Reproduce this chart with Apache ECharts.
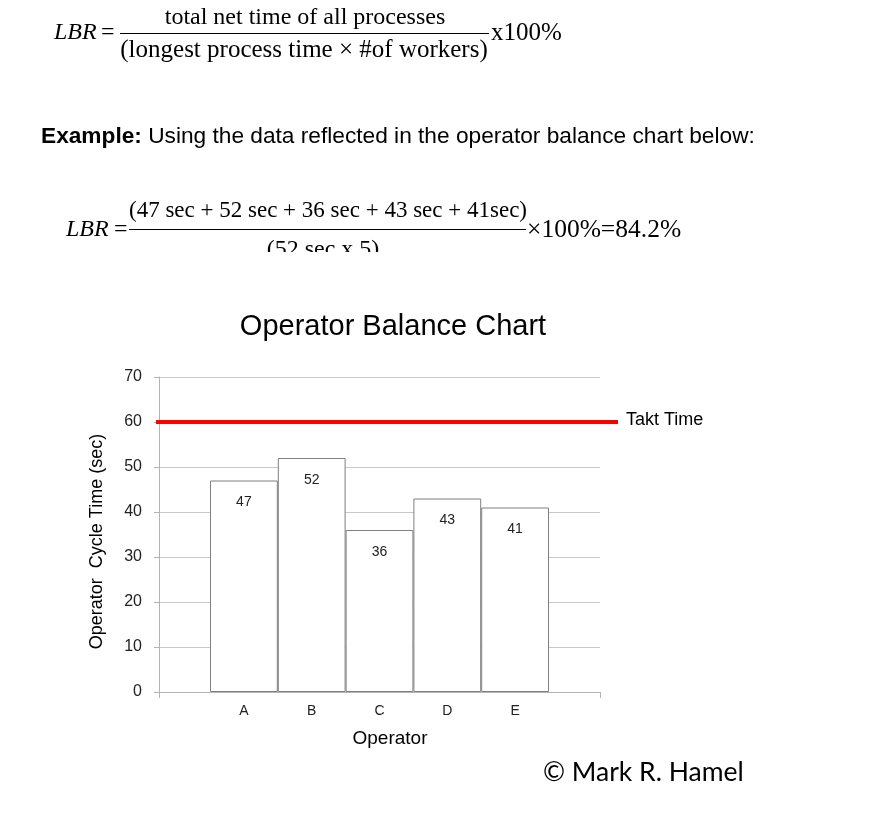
<!DOCTYPE html>
<html>
<head>
<meta charset="utf-8">
<title>Operator Balance Chart</title>
<script src="https://cdn.jsdelivr.net/npm/echarts@6/dist/echarts.min.js"></script>
<style>
    html, body { margin: 0; padding: 0; background: #fff; }
    #chart { width: 875px; height: 816px; }
</style>
</head>
<body>
<div id="chart"></div>
<script>
// chart data
const operators = ['A', 'B', 'C', 'D', 'E'];
const cycleTimes = [47, 52, 36, 43, 41];
const taktTime = 60;
const taktLabel = 'Takt Time';
const yMin = 0;
const yMax = 70;
const yStep = 10;

const serif = '"Liberation Serif", "Times New Roman", serif';
const sans = '"Liberation Sans", Arial, sans-serif';

let chart = echarts.init(document.getElementById('chart'));

// plain text pieces above and below the chart (formulas, note, copyright)
function txt(text, x, y, size, opts) {
    opts = opts || {};
    return {
        type: 'text',
        x: x,
        y: y,
        z: 10,
        style: {
            text: text,
            font: (opts.style || '') + ' ' + size + 'px ' + (opts.family || serif),
            fill: '#000',
            align: opts.align || 'left',
            verticalAlign: 'middle',
            rich: opts.rich
        }
    };
}
function hline(x1, x2, y) {
    return {
        type: 'line',
        z: 10,
        shape: { x1: x1, y1: y, x2: x2, y2: y },
        style: { stroke: '#000', lineWidth: 1 }
    };
}

let graphics = [
    // LBR definition
    txt('LBR', 54, 33, 24, { style: 'italic' }),
    txt('=', 101, 33, 24),
    txt('total net time of all processes', 305, 18, 24, { align: 'center' }),
    hline(120, 489, 33.5),
    txt('(longest process time \u00d7 #of workers)', 304, 50, 25, { align: 'center' }),
    txt('x100%', 491, 33, 25),

    // example line
    {
        type: 'text', x: 41, y: 137, z: 10,
        style: {
            text: '{b|Example:} Using the data reflected in the operator balance chart below:',
            font: '22.7px ' + sans,
            fill: '#000',
            verticalAlign: 'middle',
            rich: { b: { fontWeight: 'bold', fontSize: 22.7, fontFamily: sans } }
        }
    },

    // worked example
    txt('LBR', 66, 230, 24, { style: 'italic' }),
    txt('=', 114, 230, 24),
    txt('(47 sec + 52 sec + 36 sec + 43 sec + 41sec)', 328, 211, 23, { align: 'center' }),
    hline(129, 526, 229.5),
    txt('(52 sec x 5)', 323, 250, 24, { align: 'center' }),
    txt('\u00d7100%=84.2%', 527, 230, 25.5),
    // the source image is cut right under the denominator
    {
        type: 'rect', z: 11,
        shape: { x: 0, y: 252, width: 875, height: 20 },
        style: { fill: '#fff' }
    },

    txt('\u00a9 Mark R. Hamel', 543, 772, 26.5, { family: 'Lato, "Open Sans", sans-serif' })
];

let axisGray = '#b4b4b4';

let options = {
    animation: false,
    backgroundColor: '#fff',
    title: {
        text: 'Operator Balance Chart',
        left: 388,
        top: 307,
        textAlign: 'center',
        textStyle: {
            fontFamily: sans,
            fontSize: 29,
            fontWeight: 'normal',
            color: '#000'
        }
    },
    graphic: graphics,
    grid: [
        // frame with y axis and gridlines
        { left: 159, right: 275, top: 377, bottom: 124 },
        // bars
        { left: 210, right: 326, top: 377, bottom: 124 },
        // takt line, runs a bit past the plot
        { left: 156, right: 257, top: 377, bottom: 124 }
    ],
    xAxis: [
        {
            gridIndex: 0,
            type: 'value',
            min: 0,
            max: 1,
            interval: 1,
            axisLine: { show: true, lineStyle: { color: axisGray } },
            axisTick: { show: true, length: 6, lineStyle: { color: axisGray } },
            axisLabel: { show: false },
            splitLine: { show: false },
            name: 'Operator',
            nameLocation: 'middle',
            nameGap: 37,
            nameTextStyle: {
                fontFamily: sans,
                fontSize: 19,
                color: '#000',
                padding: [0, 0, 0, 21]
            }
        },
        {
            gridIndex: 1,
            type: 'category',
            data: operators,
            boundaryGap: true,
            axisLine: { show: false },
            axisTick: { show: false },
            axisLabel: { fontFamily: sans, fontSize: 14, color: '#222', margin: 12 }
        },
        { gridIndex: 2, type: 'value', min: 0, max: 1, show: false }
    ],
    yAxis: [
        {
            gridIndex: 0,
            type: 'value',
            min: yMin,
            max: yMax,
            interval: yStep,
            axisLine: { show: true, lineStyle: { color: axisGray } },
            axisTick: { show: true, length: 5, lineStyle: { color: axisGray } },
            axisLabel: { fontFamily: sans, fontSize: 16, color: '#222', margin: 17 },
            splitLine: { show: true, lineStyle: { color: '#c8c8c8', width: 1 } },
            name: 'Operator  Cycle Time (sec)',
            nameLocation: 'middle',
            nameGap: 53,
            nameTextStyle: {
                fontFamily: sans,
                fontSize: 18,
                color: '#000',
                padding: [0, 14, 0, 0]
            }
        },
        { gridIndex: 1, type: 'value', min: yMin, max: yMax, show: false },
        { gridIndex: 2, type: 'value', min: yMin, max: yMax, show: false }
    ],
    series: [
        {
            type: 'bar',
            xAxisIndex: 1,
            yAxisIndex: 1,
            data: cycleTimes,
            barWidth: '100%',
            itemStyle: {
                color: '#fff',
                borderColor: '#7f7f7f',
                borderWidth: 1
            },
            label: {
                show: true,
                position: 'insideTop',
                distance: 15,
                fontFamily: sans,
                fontSize: 14,
                color: '#222'
            },
            silent: true
        },
        {
            type: 'line',
            xAxisIndex: 2,
            yAxisIndex: 2,
            data: [[0, taktTime], [1, taktTime]],
            symbol: 'none',
            z: 5,
            lineStyle: { color: '#ff0000', width: 4, cap: 'butt' },
            endLabel: {
                show: true,
                formatter: taktLabel,
                distance: 8,
                fontFamily: sans,
                fontSize: 18,
                color: '#000',
                offset: [0, -2]
            },
            silent: true
        }
    ]
};
chart.setOption(options);

window.addEventListener('resize', function () {
    chart.resize();
});
</script>
</body>
</html>
